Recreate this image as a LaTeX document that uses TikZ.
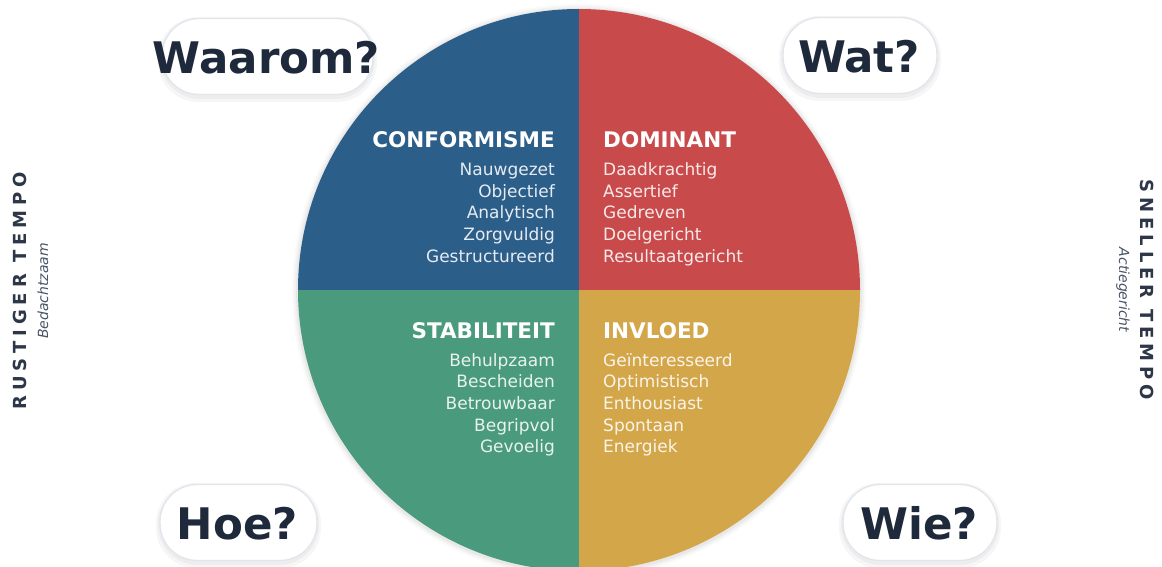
\documentclass[tikz,border=0pt]{standalone}
\usepackage{fontspec}
\setmainfont{DejaVu Sans}[BoldFont={DejaVu Sans Bold},ItalicFont={DejaVu Sans Oblique}]
\newfontfamily\spacedbf{DejaVu Sans Bold}[LetterSpace=27]
\definecolor{qblue}{HTML}{2C5E8A}
\definecolor{qred}{HTML}{C84A4B}
\definecolor{qgreen}{HTML}{4A9A7E}
\definecolor{qgold}{HTML}{D4A64A}
\definecolor{ink}{HTML}{1E293B}
\definecolor{sidetitle}{HTML}{2D3748}
\definecolor{sidesub}{HTML}{4A5568}
\definecolor{pillborder}{HTML}{E2E6EC}
\tikzset{
  heading/.style={text=white, font=\bfseries\fontsize{21.5}{24}\selectfont, inner sep=0pt},
  item/.style={text=white, text opacity=0.88, font=\fontsize{17}{20}\selectfont, inner sep=0pt},
  pillshape/.style={fill=white, draw=pillborder, line width=1.4pt, rounded corners=37pt, inner sep=0pt},
  pilltext/.style={text=ink, font=\bfseries\fontsize{43.5}{46}\selectfont, inner sep=0pt},
  pillshadow/.style={fill=black, fill opacity=0.035, rounded corners=40pt, draw=none, inner sep=0pt},
  sidetitlestyle/.style={text=sidetitle, font=\spacedbf\fontsize{18}{20}\selectfont, inner sep=0pt},
  sidesubstyle/.style={text=sidesub, font=\itshape\fontsize{14}{16}\selectfont, inner sep=0pt},
}
\begin{document}
\begin{tikzpicture}[x=1pt,y=-1pt]
\useasboundingbox (0,0) rectangle (1162,567);
\fill[white] (0,0) rectangle (1162,567);
% circle shadow
\foreach \r/\o in {287/0.02,285/0.03,283/0.04}{
  \fill[black, opacity=\o] (579,291) circle (\r pt);
}
\begin{scope}
  \clip (579,290) circle (281pt);
  \fill[qblue] (290,0) rectangle (579,290);
  \fill[qred] (579,0) rectangle (870,290);
  \fill[qgreen] (290,290) rectangle (579,580);
  \fill[qgold] (579,290) rectangle (870,580);
\end{scope}
% headings
\node[heading, anchor=base east] (hc) at (555,148) {CONFORMISME};
\node[heading, anchor=base west] (hd) at (603,148) {DOMINANT};
\node[heading, anchor=base east] (hs) at (555,338) {STABILITEIT};
\node[heading, anchor=base west] (hi) at (603,338) {INVLOED};
% items
\foreach \t [count=\i from 0] in {Nauwgezet,Objectief,Analytisch,Zorgvuldig,Gestructureerd}{
  \node[item, anchor=base east] (c\i) at (555,175.5+21.7*\i) {\t};
}
\foreach \t [count=\i from 0] in {Daadkrachtig,Assertief,Gedreven,Doelgericht,Resultaatgericht}{
  \node[item, anchor=base west] (d\i) at (603,175.5+21.7*\i) {\t};
}
\foreach \t [count=\i from 0] in {Behulpzaam,Bescheiden,Betrouwbaar,Begripvol,Gevoelig}{
  \node[item, anchor=base east] (s\i) at (555,366+21.7*\i) {\t};
}
\foreach \t [count=\i from 0] in {Geïnteresseerd,Optimistisch,Enthousiast,Spontaan,Energiek}{
  \node[item, anchor=base west] (i\i) at (603,366+21.7*\i) {\t};
}
% pills
\foreach \n/\cx/\cy/\w/\lab in {waarom/267.5/56.5/211/Waarom?, wat/860/55.5/154/Wat?, hoe/238.5/522.5/157/Hoe?, wie/920/522.5/154/Wie?}{
  \node[pillshadow, minimum width=\w pt+8pt, minimum height=85pt] (\n sh1) at (\cx,\cy+3) {};
  \node[pillshadow, minimum width=\w pt+4pt, minimum height=81pt] (\n sh2) at (\cx,\cy+2) {};
  \node[pillshape, minimum width=\w pt, minimum height=76pt] (\n pill) at (\cx,\cy) {};
  \node[pilltext] (\n text) at (\cx-1,\cy+1) {\lab};
}
% side labels
\node[sidetitlestyle, rotate=90] (rt) at (20,291) {RUSTIGER TEMPO};
\node[sidesubstyle, rotate=90] (rs) at (43,291) {Bedachtzaam};
\node[sidetitlestyle, rotate=-90] (st) at (1147,290) {SNELLER TEMPO};
\node[sidesubstyle, rotate=-90] (ss) at (1123,290) {Actiegericht};
\end{tikzpicture}
\end{document}
